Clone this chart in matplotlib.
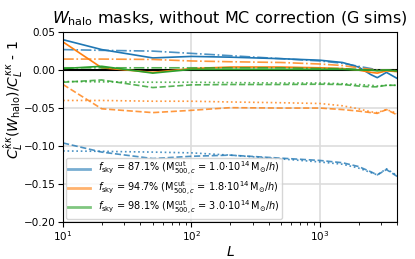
import numpy as np
import matplotlib.pyplot as plt

# multipole sample points
L = [10, 20, 50, 100, 200, 500, 1000, 1500, 2000, 2500, 2800, 3300, 4000]

fsky = ['87.1', '94.7', '98.1']
mcut = ['1.0', '1.8', '3.0']
colors = ['tab:blue', 'tab:orange', 'tab:green']

# fsky = 87.1%
blue_solid = [0.040, 0.027, 0.016, 0.018, 0.017, 0.015, 0.013, 0.010, 0.004, -0.006, -0.010, -0.003, -0.011]
blue_dashdot = [0.027, 0.026, 0.025, 0.022, 0.019, 0.015, 0.012, 0.009, 0.005, 0.002, 0.000, 0.000, -0.002]
blue_dashed = [-0.096, -0.108, -0.1165, -0.1135, -0.112, -0.116, -0.119, -0.122, -0.127, -0.134, -0.138, -0.131, -0.140]
blue_dotted = [-0.1065, -0.107, -0.108, -0.109, -0.112, -0.117, -0.121, -0.124, -0.129, -0.135, -0.138, -0.130, -0.139]

# fsky = 94.7%
orange_solid = [0.037, 0.003, -0.003, 0.002, 0.004, 0.004, 0.003, 0.002, 0.000, -0.003, -0.004, -0.001, -0.002]
orange_dashdot = [0.0145, 0.0145, 0.014, 0.012, 0.011, 0.010, 0.008, 0.006, 0.003, 0.001, 0.000, 0.000, -0.001]
orange_dashed = [-0.019, -0.051, -0.056, -0.053, -0.0495, -0.050, -0.050, -0.052, -0.054, -0.056, -0.057, -0.052, -0.059]
orange_dotted = [-0.040, -0.040, -0.041, -0.041, -0.042, -0.043, -0.044, -0.047, -0.051, -0.055, -0.056, -0.052, -0.057]

# fsky = 98.1%
green_solid = [0.002, 0.005, -0.004, 0.001, 0.001, 0.001, 0.001, 0.001, 0.000, 0.000, -0.001, 0.000, -0.001]
green_dashdot = [0.003, 0.003, 0.003, 0.003, 0.003, 0.003, 0.002, 0.002, 0.001, 0.000, 0.000, 0.000, -0.001]
green_dashed = [-0.016, -0.013, -0.023, -0.0195, -0.019, -0.019, -0.0186, -0.019, -0.021, -0.022, -0.022, -0.020, -0.020]
green_dotted = [-0.015, -0.0155, -0.016, -0.016, -0.0165, -0.017, -0.017, -0.018, -0.019, -0.020, -0.021, -0.020, -0.020]

solid = [blue_solid, orange_solid, green_solid]
dashdot = [blue_dashdot, orange_dashdot, green_dashdot]
dashed = [blue_dashed, orange_dashed, green_dashed]
dotted = [blue_dotted, orange_dotted, green_dotted]

fig = plt.figure(figsize=(4.15, 2.59), dpi=100)
ax = fig.add_axes([0.152, 0.143, 0.805, 0.733])

ax.axhline(0, color='k', lw=1.5, zorder=1)
for i in range(3):
    c = colors[i]
    label = (r'$f_{\rm sky}$ = ' + fsky[i] + r'% (M$^{\rm cut}_{500,c}$ = ' + mcut[i]
             + r'$\cdot10^{14}\,$M$_{\odot}/h$)')
    ax.plot(L, solid[i], color=c, ls='-', lw=1.2, label=label)
    ax.plot(L, dashdot[i], color=c, ls='-.', lw=1.2, alpha=0.8)
    ax.plot(L, dashed[i], color=c, ls='--', lw=1.2, alpha=0.8)
    ax.plot(L, dotted[i], color=c, ls=':', lw=1.2, alpha=0.8)

ax.set_xscale('log')
ax.set_xlim(10, 4000)
ax.set_ylim(-0.2, 0.05)
ax.set_yticks([0.05, 0.0, -0.05, -0.10, -0.15, -0.20])
ax.grid(True, color='#dddddd', lw=1.2)
ax.set_axisbelow(True)
ax.tick_params(labelsize=7.5, pad=2)

ax.set_xlabel(r'$L$', fontsize=10, labelpad=1)
ax.set_ylabel(r'$C_L^{\hat\kappa\kappa}(W_{\rm halo})/C_L^{\kappa\kappa}$ - 1', fontsize=10)
ax.yaxis.set_label_coords(-0.113, 0.647)
ax.set_title(r'$W_{\rm halo}$ masks, without MC correction (G sims)', fontsize=11.5)

leg = ax.legend(loc='lower left', fontsize=7, handlelength=2.2, borderaxespad=0.3,
                labelspacing=0.1, borderpad=0.25)
for h in leg.get_lines():
    h.set_alpha(0.6)
    h.set_linewidth(2)

plt.savefig('out.png', dpi=100)
